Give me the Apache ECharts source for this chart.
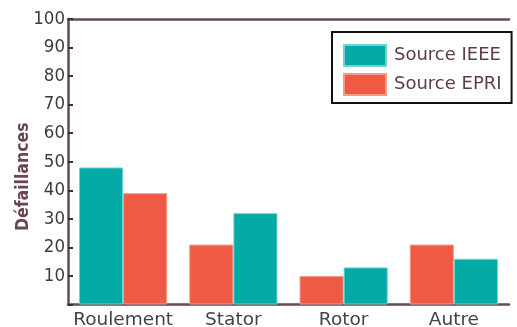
<!DOCTYPE html>
<html>
<head>
<meta charset="utf-8">
<script src="https://cdn.jsdelivr.net/npm/echarts@6/dist/echarts.min.js"></script>
<style>
  html, body { margin: 0; padding: 0; background: #ffffff; }
  #chart { width: 517px; height: 327px; }
</style>
</head>
<body>
<div id="chart"></div>
<script>
// Failure causes and their share per source
const categories = ['Roulement', 'Stator', 'Rotor', 'Autre'];
const ieeeValues = [48, 32, 13, 16];
const epriValues = [39, 21, 10, 21];
// true where the IEEE bar sits on the left of its pair
const ieeeOnLeft = [true, false, false, false];
const yTicks = [10, 20, 30, 40, 50, 60, 70, 80, 90, 100];

const IEEE = 'Source IEEE';
const EPRI = 'Source EPRI';
const colors = { [IEEE]: '#03aaa6', [EPRI]: '#ef5a45' };
const edges = { [IEEE]: '#6fd3cf', [EPRI]: '#f59a8c' };
const axisColor = '#654a57';
const font = 'DejaVu Sans';
const narrowFont = 'DejaVu Sans Condensed';

// Each pair has a left and a right slot; a source occupies whichever slot
// its category assigns it, so the bars are split across stacked series.
function slotSeries(name, values, slot) {
  return {
    name: name,
    type: 'bar',
    stack: slot,
    barCategoryGap: '20%',
    barGap: '0%',
    itemStyle: { color: colors[name], borderColor: edges[name], borderWidth: 1 },
    data: values.map((v, i) => {
      const left = name === IEEE ? ieeeOnLeft[i] : !ieeeOnLeft[i];
      return (slot === 'left') === left ? v : '-';
    })
  };
}

const series = [
  slotSeries(IEEE, ieeeValues, 'left'),
  slotSeries(EPRI, epriValues, 'left'),
  slotSeries(IEEE, ieeeValues, 'right'),
  slotSeries(EPRI, epriValues, 'right')
];

const chart = echarts.init(document.getElementById('chart'), null, { renderer: 'canvas' });
chart.setOption({
  animation: false,
  backgroundColor: '#ffffff',
  grid: { left: 68, right: 8, top: 19, bottom: 22.5, containLabel: false, outerBoundsMode: 'none' },
  legend: {
    data: [IEEE, EPRI],
    orient: 'vertical',
    left: 332,
    top: 32,
    padding: [12, 10, 7, 11],
    itemGap: 6,
    itemWidth: 42,
    itemHeight: 21,
    borderColor: '#111111',
    borderWidth: 2,
    icon: 'rect',
    textStyle: { fontFamily: font, fontSize: 18, color: '#5c3c4c', padding: [0, 0, 0, 3] }
  },
  xAxis: [
    {
      type: 'category',
      data: categories,
      position: 'bottom',
      axisLine: { lineStyle: { color: axisColor, width: 2.5 } },
      axisTick: { show: false },
      axisLabel: { interval: 0, fontFamily: font, fontSize: 18.5, color: '#444444', margin: 6 }
    },
    {
      type: 'category',
      data: categories,
      position: 'top',
      axisLine: { lineStyle: { color: axisColor, width: 2.5 } },
      axisTick: { show: false },
      axisLabel: { show: false }
    }
  ],
  yAxis: {
    type: 'value',
    min: 0,
    max: yTicks[yTicks.length - 1],
    interval: yTicks[1] - yTicks[0],
    name: 'Défaillances',
    nameLocation: 'middle',
    nameGap: 36,
    nameMoveOverlap: false,
    nameTextStyle: { fontFamily: narrowFont, fontSize: 17.5, fontWeight: 'bold', color: '#6b4556', padding: [0, 30, 0, 0] },
    splitLine: { show: false },
    axisLine: { show: true, lineStyle: { color: axisColor, width: 2.5 } },
    axisTick: { show: true, inside: true, length: 5, lineStyle: { color: '#333333', width: 2 } },
    axisLabel: {
      fontFamily: narrowFont, fontSize: 18.5, color: '#3d3d3d', margin: 3,
      formatter: v => (yTicks.includes(v) ? String(v) : '')
    }
  },
  series: series
});
</script>
</body>
</html>
